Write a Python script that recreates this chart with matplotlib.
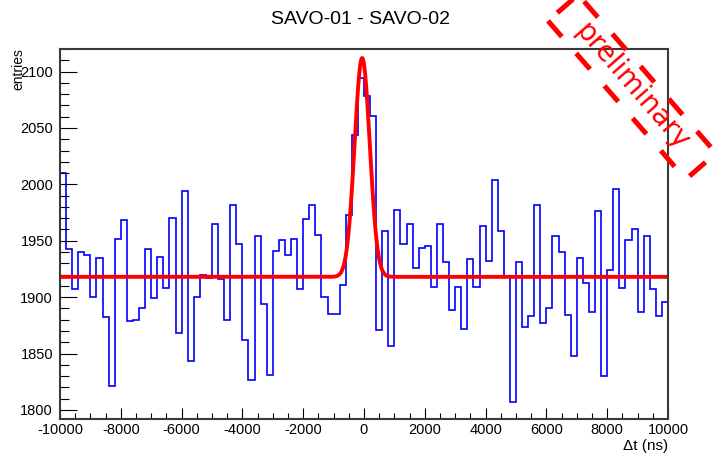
import numpy as np
import matplotlib
matplotlib.use("Agg")
import matplotlib.pyplot as plt
from matplotlib.patches import Rectangle
from matplotlib.transforms import Affine2D
from matplotlib.ticker import MultipleLocator

plt.rcParams['font.family'] = ['Liberation Sans', 'DejaVu Sans']
plt.rcParams['axes.unicode_minus'] = False

# histogram: 100 bins of 200 ns between -10000 and 10000
bin_edges = np.linspace(-10000, 10000, 101)
counts = [
    2010, 1943, 1907, 1940, 1937, 1900, 1935, 1882, 1821, 1952,
    1968, 1879, 1880, 1890, 1943, 1899, 1936, 1908, 1970, 1868,
    1994, 1843, 1900, 1920, 1917, 1965, 1916, 1880, 1982, 1947,
    1862, 1827, 1954, 1894, 1831, 1941, 1951, 1937, 1952, 1907,
    1969, 1982, 1955, 1900, 1885, 1885, 1911, 1973, 2044, 2094,
    2078, 2061, 1871, 1959, 1857, 1977, 1947, 1965, 1926, 1944,
    1945, 1909, 1965, 1931, 1889, 1909, 1872, 1934, 1909, 1963,
    1932, 2004, 1959, 1918, 1807, 1931, 1874, 1883, 1982, 1877,
    1890, 1954, 1940, 1884, 1848, 1935, 1913, 1887, 1976, 1830,
    1924, 1996, 1908, 1951, 1960, 1887, 1954, 1907, 1883, 1896,
]

# gaussian + constant fit parameters
fit_const = 1918.0
fit_amp = 194.0
fit_mean = -60.0
fit_sigma = 250.0

title = "SAVO-01 - SAVO-02"
x_title = "\u0394t (ns)"
y_title = "entries"

fig = plt.figure(figsize=(7.15, 4.53), dpi=100)
ax = fig.add_axes([60 / 715, 34 / 453, 608 / 715, 370 / 453])

ax.stairs(counts, bin_edges, baseline=None, color='#0000ff', lw=1.2)

t = np.linspace(-10000, 10000, 2001)
fit = fit_const + fit_amp * np.exp(-0.5 * ((t - fit_mean) / fit_sigma) ** 2)
ax.plot(t, fit, color='#ff0000', lw=2.8)

ax.set_xlim(-10000, 10000)
ax.set_ylim(1792, 2120)

ax.xaxis.set_major_locator(MultipleLocator(2000))
ax.xaxis.set_minor_locator(MultipleLocator(500))
ax.yaxis.set_major_locator(MultipleLocator(50))
ax.yaxis.set_minor_locator(MultipleLocator(10))
ax.tick_params(axis='both', which='both', direction='in', top=False, right=False,
               labelsize=10.5, color='black', width=0.8)
ax.tick_params(axis='x', which='major', length=7.7, pad=3)
ax.tick_params(axis='x', which='minor', length=4.1)
ax.tick_params(axis='y', which='major', length=12.2, pad=5)
ax.tick_params(axis='y', which='minor', length=6.5)

for sp in ax.spines.values():
    sp.set_color('#3a3a3a')
    sp.set_linewidth(1.5)

fig.text(360 / 715, 1 - 19 / 453, title, ha='center', va='center', fontsize=14)
fig.text(668 / 715, 1 - 446 / 453, x_title, ha='right', va='center', fontsize=11)
fig.text(18 / 715, 1 - 48 / 453, y_title, ha='center', va='top', rotation=90, fontsize=10)

# "preliminary" stamp with dashed frame
cx, cy = 632, 453 - 87
fig.text(cx / 715, cy / 453, "preliminary", color='#ff0000', fontsize=20,
         family='DejaVu Sans', rotation=-49, rotation_mode='anchor',
         ha='center', va='center')
box = Rectangle((-105, -20), 210, 40, fill=False, edgecolor='#ff0000', lw=3.6,
                linestyle=(0, (4.2, 4.4)), capstyle='butt',
                transform=Affine2D().rotate_deg(-49).translate(cx, cy))
fig.add_artist(box)

fig.savefig("out.png", dpi=100)
